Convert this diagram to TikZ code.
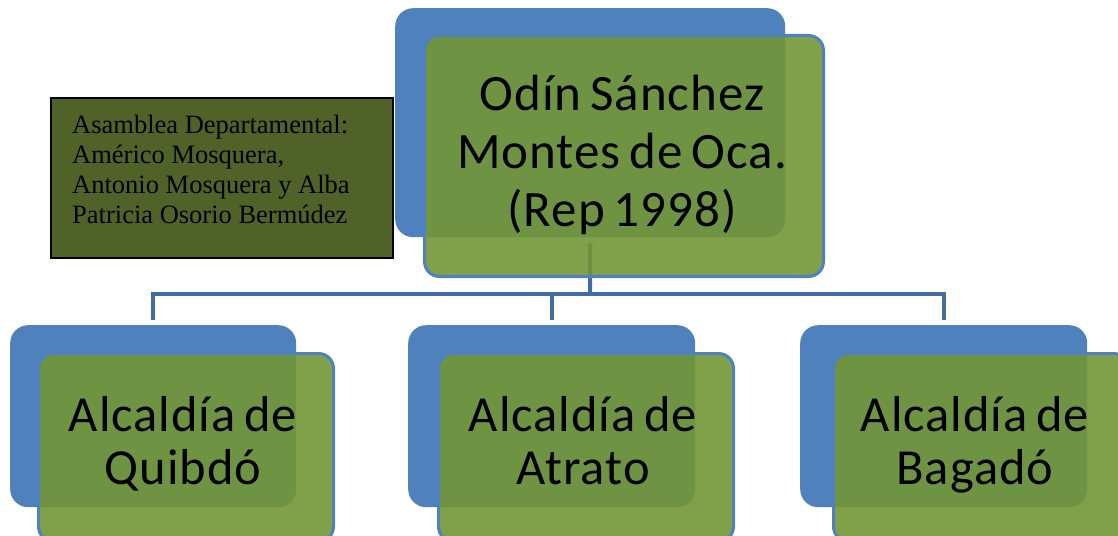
\documentclass[tikz,border=0pt]{standalone}
\usepackage{fontspec}
\setmainfont{Carlito}[LetterSpace=2, WordSpace=0.7]
\newfontfamily\timesfont{Liberation Serif}
\definecolor{boxblue}{RGB}{79,129,189}
\definecolor{boxgreen}{RGB}{114,150,54}
\definecolor{olivebox}{RGB}{79,98,40}
\definecolor{connblue}{RGB}{66,108,164}
\begin{document}
\begin{tikzpicture}[x=1pt,y=-1pt,
  back/.style={fill=boxblue, draw=none, rounded corners=18pt, anchor=north west, inner sep=0pt},
  front/.style={fill=boxgreen, fill opacity=0.9, draw=boxblue, draw opacity=1, line width=3pt, rounded corners=15pt, anchor=north west, inner sep=0pt},
  conn/.style={draw=connblue, line width=4pt},
  bigtext/.style={anchor=base, inner sep=0pt, align=flush center, text width=390pt, text=black, font=\fontsize{51}{58}\selectfont},
  smalltext/.style={anchor=base, inner sep=0pt, align=flush center, text width=290pt, text=black, font=\fontsize{50.5}{53}\selectfont},
  notebox/.style={fill=olivebox, draw=black, line width=2pt, anchor=north west, inner sep=0pt},
  notetext/.style={anchor=base west, inner sep=0pt, text width=310pt, align=flush left, text=black, font=\timesfont\fontsize{26.5}{30}\selectfont}]
\useasboundingbox (0,0) rectangle (1118,535);
% back boxes
\node[back, minimum width=390pt, minimum height=229pt] (tb) at (395,8) {};
\node[back, minimum width=286pt, minimum height=182pt] (b1) at (10,325) {};
\node[back, minimum width=287pt, minimum height=182pt] (b2) at (408,325) {};
\node[back, minimum width=287pt, minimum height=182pt] (b3) at (800,325) {};
% connectors
\coordinate (bus) at (590,294);
\draw[conn] ([yshift=-6pt]tb.south) -- (bus);
\draw[conn] (bus) -| ([yshift=5pt]b1.north);
\draw[conn] (bus) -| ([yshift=5pt]b2.north);
\draw[conn] (bus) -| ([yshift=5pt]b3.north);
% front boxes
\node[front, minimum width=399pt, minimum height=241pt] (tg) at (423,34) {};
\node[front, minimum width=295pt, minimum height=188pt] (g1) at (37,352) {};
\node[front, minimum width=295pt, minimum height=188pt] (g2) at (437,352) {};
\node[front, minimum width=295pt, minimum height=188pt] (g3) at (832,352) {};
% texts
\node[bigtext] (tgt) at (622,110) {Odín Sánchez\\Montes de Oca.\\(Rep 1998)};
\node[smalltext] (g1t) at (183,431) {Alcaldía de\\Quibdó};
\node[smalltext] (g2t) at (583,431) {Alcaldía de\\Atrato};
\node[smalltext] (g3t) at (975,431) {Alcaldía de\\Bagadó};
% note box
\node[notebox, minimum width=342pt, minimum height=160pt] (nb) at (50,97) {};
\node[notetext] (nbt) at (72,133) {Asamblea Departamental:\\Américo Mosquera,\\Antonio Mosquera y Alba\\Patricia Osorio Bermúdez};
\end{tikzpicture}
\end{document}
